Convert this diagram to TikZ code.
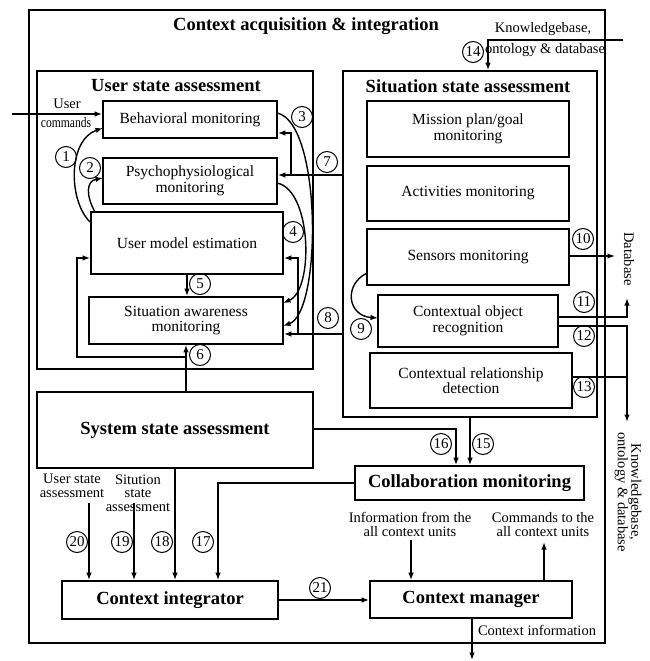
\documentclass[tikz,border=0pt]{standalone}
\usepackage{fontspec}
\setmainfont{Liberation Serif}
\usetikzlibrary{arrows.meta}
\begin{document}
\begin{tikzpicture}[x=1pt,y=-1pt,
 box/.style={draw, line width=1.6pt, inner sep=0pt, align=center, font=\fontsize{15.5}{15.5}\selectfont},
 bbox/.style={draw, line width=1.6pt, inner sep=0pt, align=center, font=\fontsize{18.5}{20}\selectfont\bfseries},
 frame/.style={draw, line width=1.6pt, inner sep=0pt},
 ttl/.style={font=\fontsize{18.5}{20}\selectfont\bfseries, inner sep=0pt},
 lbl/.style={font=\fontsize{14.5}{13.5}\selectfont, align=center, inner sep=0pt},
 num/.style={draw, circle, line width=1pt, minimum size=21pt, inner sep=0pt, font=\fontsize{15}{15}\selectfont},
 arr/.style={line width=1.4pt, -{Latex[length=7.5pt,width=5.5pt]}},
 ln/.style={line width=1.4pt}]
\useasboundingbox (0,0) rectangle (649,661);

% frames
\node[frame, minimum width=576pt, minimum height=633pt] (outer) at (317,326.5) {};
\node[ttl] (outerttl) at (306,26) {Context acquisition \& integration};
\node[frame, minimum width=276pt, minimum height=298pt] (user) at (175,220) {};
\node[ttl] (userttl) at (176,86) {User state assessment};
\node[frame, minimum width=254pt, minimum height=346pt] (sit) at (470,244) {};
\node[ttl] (sitttl) at (468,86) {Situation state assessment};

% user boxes
\node[box, minimum width=174pt, minimum height=37pt] (behav) at (190,119.5) {Behavioral monitoring};
\node[box, minimum width=174pt, minimum height=46pt] (psych) at (190,181) {Psychophysiological\\monitoring};
\node[box, minimum width=192pt, minimum height=62pt] (ume) at (187,243) {User model estimation};
\node[box, minimum width=194pt, minimum height=47pt] (sam) at (186,320.5) {Situation awareness\\monitoring};

% situation boxes
\node[box, minimum width=202pt, minimum height=56pt] (mission) at (468,129) {Mission plan/goal\\monitoring};
\node[box, minimum width=202pt, minimum height=55pt] (activ) at (468,193.5) {Activities monitoring};
\node[box, minimum width=202pt, minimum height=56pt] (sensors) at (468,257) {Sensors monitoring};
\node[box, minimum width=180pt, minimum height=52pt] (cor) at (468,321) {Contextual object\\recognition};
\node[box, minimum width=202pt, minimum height=55pt] (crd) at (471,380.5) {Contextual relationship\\detection};

% lower boxes
\node[bbox, minimum width=276pt, minimum height=76pt] (sys) at (175,430) {System state assessment};
\node[bbox, minimum width=229pt, minimum height=34pt] (collab) at (469.5,483) {Collaboration monitoring};
\node[bbox, minimum width=216pt, minimum height=38pt] (ci) at (170,600) {Context integrator};
\node[bbox, minimum width=202pt, minimum height=37pt] (cm) at (471,599.5) {Context manager};

% user commands
\coordinate (ucs) at (12,114);
\draw[arr] (ucs) -- (behav.west |- ucs);
\node[lbl] (uclbl1) at (67,104) {User};
\node[lbl] (uclbl2) at (66,123) {\scalebox{0.8}[1]{commands}};

% curves 1 and 2
\draw[arr] (90,222) .. controls (68,200) and (68,140) .. (103,128);
\draw[arr] (95,212) .. controls (86,196) and (86,181) .. (103,178);
\node[num] (n1) at (66,157) {1};
\node[num] (n2) at (90,168) {2};

% curves 3 and 4
\draw[arr] (277,113) .. controls (322,122) and (322,312) .. (283,326);
\draw[arr] (277,183) .. controls (312,190) and (314,290) .. (283,303);
\node[num] (n3) at (302,117) {3};
\node[num] (n4) at (293,232) {4};

% 5
\draw[arr] (ume.south) -- (ume.south |- sam.north);
\node[num] (n5) at (200,284) {5};

% 6
\coordinate (s6) at (186,392);
\coordinate (j6) at (186,357);
\coordinate (k6) at (77,357);
\coordinate (k6b) at (77,258);
\draw[arr] (s6) -- (sam.south -| s6);
\draw[arr] (j6) -- (k6) -- (k6b) -- (ume.west |- k6b);
\node[num] (n6) at (200,355) {6};

% 7
\coordinate (c7) at (343,175);
\coordinate (j7) at (291,175);
\coordinate (j7b) at (291,133);
\draw[arr] (c7) -- (psych.east |- c7);
\draw[arr] (j7) -- (j7b) -- (behav.east |- j7b);
\node[num] (n7) at (327,162) {7};

% 8
\coordinate (c8) at (343,334);
\coordinate (j8) at (298,334);
\coordinate (j8b) at (298,258);
\draw[arr] (c8) -- (sam.east |- c8);
\draw[arr] (j8) -- (j8b) -- (ume.east |- j8b);
\node[num] (n8) at (328,318) {8};

% 9
\draw[arr] (367,273) .. controls (343,285) and (348,316) .. (378,318);
\node[num] (n9) at (361,329) {9};

% 10
\coordinate (s10) at (569,256);
\coordinate (e10) at (615,256);
\draw[arr] (s10) -- (e10);
\node[num] (n10) at (583,239) {10};
\node[lbl, rotate=-90] (db) at (629,259) {Database};

% 11 12 13
\coordinate (s11) at (558,317);
\coordinate (j11) at (627,317);
\coordinate (e11) at (627,298);
\draw[arr] (s11) -- (j11) -- (e11);
\coordinate (s12) at (558,326);
\coordinate (j12) at (627,326);
\coordinate (e12) at (627,422);
\draw[arr] (s12) -- (j12) -- (e12);
\coordinate (s13) at (572,377);
\coordinate (j13) at (627,377);
\draw[ln] (s13) -- (j13);
\node[num] (n11) at (584,302) {11};
\node[num] (n12) at (584,336) {12};
\node[num] (n13) at (584,387) {13};
\node[lbl, rotate=-90] (kb2) at (628,492) {Knowledgebase,\\ontology \& database};

% 14
\coordinate (s14) at (623,40);
\coordinate (j14) at (488,40);
\draw[arr] (s14) -- (j14) -- (sit.north -| j14);
\node[num] (n14) at (473,52) {14};
\node[lbl] (kb1a) at (543,29) {Knowledgebase,};
\node[lbl] (kb1b) at (545,50) {ontology \& database};

% 15 16
\coordinate (s15) at (470,417);
\draw[arr] (s15) -- (collab.north -| s15);
\coordinate (s16) at (313,429);
\coordinate (j16) at (456,429);
\draw[arr] (s16) -- (j16) -- (collab.north -| j16);
\node[num] (n16) at (441,444) {16};
\node[num] (n15) at (483,444) {15};

% 17 18 19 20
\coordinate (s17) at (355,483);
\coordinate (j17) at (218,483);
\draw[arr] (s17) -- (j17) -- (ci.north -| j17);
\coordinate (s18) at (175,468);
\draw[arr] (s18) -- (ci.north -| s18);
\coordinate (s19) at (134,503);
\draw[arr] (s19) -- (ci.north -| s19);
\coordinate (s20) at (89,503);
\draw[arr] (s20) -- (ci.north -| s20);
\node[num] (n20) at (77,542) {20};
\node[num] (n19) at (122,542) {19};
\node[num] (n18) at (162,542) {18};
\node[num] (n17) at (203,542) {17};
\node[lbl] (usa) at (72,486) {User state\\assessment};
\node[lbl] (ssa) at (138,493) {Sitution\\state\\assessment};

% 21
\draw[arr] (ci.east) -- (cm.west |- ci.east);
\node[num] (n21) at (320,588) {21};

% context manager in/out
\coordinate (sinfo) at (411,540);
\draw[arr] (sinfo) -- (cm.north -| sinfo);
\coordinate (ecmd) at (544,542);
\draw[arr] (cm.north -| ecmd) -- (ecmd);
\node[lbl] (info) at (410,524.5) {Information from the\\all context units};
\node[lbl] (cmds) at (543,524.5) {Commands to the\\all context units};
\coordinate (ecinfo) at (472,660);
\draw[arr] (cm.south -| ecinfo) -- (ecinfo);
\node[lbl] (cinfo) at (537,630) {Context information};
\end{tikzpicture}
\end{document}
